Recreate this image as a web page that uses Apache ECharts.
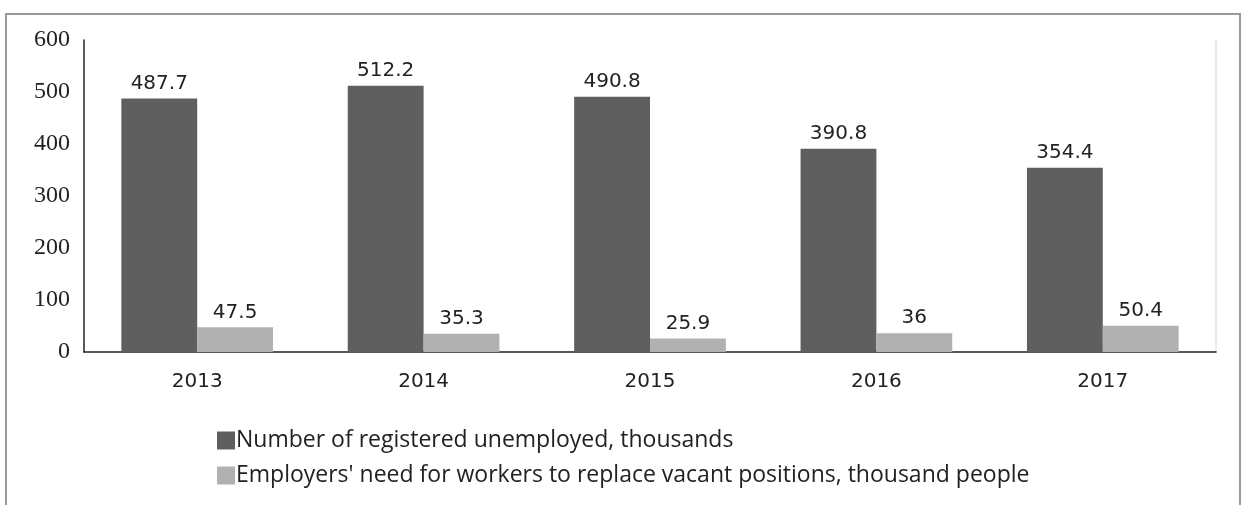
<!DOCTYPE html>
<html>
<head>
<meta charset="utf-8">
<script src="https://cdn.jsdelivr.net/npm/echarts@6/dist/echarts.min.js"></script>
<style>
  html, body { margin: 0; padding: 0; background: #fff; }
  #chart { width: 1243px; height: 505px; }
</style>
</head>
<body>
<div id="chart"></div>
<script>
const years = ["2013", "2014", "2015", "2016", "2017"];
const unemployed = [487.7, 512.2, 490.8, 390.8, 354.4];
const vacancies = [47.5, 35.3, 25.9, 36, 50.4];
const seriesNames = [
  "Number of registered unemployed, thousands",
  "Employers' need for workers to replace vacant positions, thousand people",
];
const darkGrey = "#5f5f5f";
const lightGrey = "#b1b1b1";

const chart = echarts.init(document.getElementById("chart"), null, { renderer: "canvas" });

const labelStyle = {
  show: true,
  position: "top",
  distance: 5,
  color: "#222",
  fontFamily: "DejaVu Sans",
  fontSize: 20,
};

chart.setOption({
  animation: false,
  graphic: [
    {
      type: "rect",
      shape: { x: 6, y: 14, width: 1234, height: 520 },
      style: { fill: "none", stroke: "#9a9a9a", lineWidth: 2 },
      silent: true,
    },
  ],
  grid: { left: 84, right: 27, top: 40, bottom: 153 },
  legend: {
    orient: "vertical",
    left: 212,
    top: 424,
    itemWidth: 18,
    itemHeight: 18,
    itemGap: 12,
    icon: "rect",
    textStyle: { fontFamily: "Open Sans", fontSize: 23, color: "#222", padding: [0, 0, 0, -4] },
    data: seriesNames,
  },
  xAxis: {
    type: "category",
    data: years,
    axisLine: { lineStyle: { color: "#222", width: 1.5 } },
    axisTick: { show: false },
    axisLabel: { margin: 20, fontFamily: "DejaVu Sans", fontSize: 20, color: "#222" },
  },
  yAxis: [
    {
      type: "value",
      min: 0,
      max: 600,
      interval: 100,
      splitLine: { show: false },
      axisLine: { show: true, lineStyle: { color: "#222", width: 1.5 } },
      axisTick: { show: false },
      axisLabel: { margin: 14, fontFamily: "Liberation Serif", fontSize: 24, color: "#222" },
    },
    {
      type: "value",
      position: "right",
      min: 0,
      max: 600,
      interval: 100,
      splitLine: { show: false },
      axisLine: { show: true, lineStyle: { color: "#e4e4e4", width: 1.5 } },
      axisTick: { show: false },
      axisLabel: { show: false },
    },
  ],
  series: [
    {
      name: seriesNames[0],
      type: "bar",
      data: unemployed,
      barGap: "0%",
      barCategoryGap: "33%",
      itemStyle: { color: darkGrey },
      label: labelStyle,
    },
    {
      name: seriesNames[1],
      type: "bar",
      data: vacancies,
      itemStyle: { color: lightGrey },
      label: labelStyle,
    },
  ],
});
</script>
</body>
</html>
